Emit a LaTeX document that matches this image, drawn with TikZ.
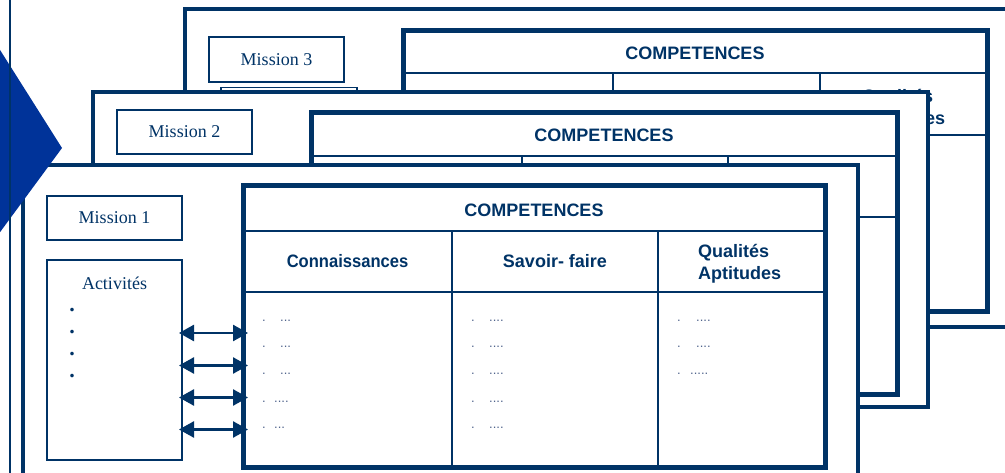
\documentclass[tikz,border=0pt]{standalone}
\usepackage{fontspec}
\setmainfont{Liberation Serif}
\newfontfamily\hsans{Liberation Sans}
\newfontfamily\hsansn[FakeStretch=0.92]{Liberation Sans}
\usetikzlibrary{arrows.meta}
\definecolor{navy}{RGB}{0,51,102}
\definecolor{royal}{RGB}{0,51,153}
\definecolor{dotc}{RGB}{80,100,140}
\tikzset{
  panel/.style={rectangle, draw=navy, line width=3.5pt, fill=white, inner sep=0pt, outer sep=0pt, anchor=north west},
  mbox/.style={rectangle, draw=navy, line width=2pt, fill=white, inner sep=0pt, outer sep=0pt, anchor=north west, text=navy, font=\fontsize{18}{22}\selectfont},
  tbl/.style={rectangle, draw=navy, line width=5pt, fill=white, inner sep=0pt, outer sep=0pt, anchor=north west},
  tline/.style={draw=navy, line width=2.2pt},
  head/.style={text=navy, font=\hsans\bfseries\fontsize{18}{22}\selectfont, inner sep=0pt, anchor=base},
  headw/.style={head, anchor=base west},
  mlabel/.style={text=navy, font=\fontsize{18}{22}\selectfont, inner sep=0pt},
  bul/.style={text=navy, font=\bfseries\fontsize{22}{24}\selectfont, inner sep=0pt},
  dotx/.style={text=dotc, font=\hsans\fontsize{13}{15}\selectfont, inner sep=0pt, anchor=base west},
  link/.style={draw=navy, line width=2.5pt, arrows={Triangle[length=15pt,width=16pt]-Triangle[length=15pt,width=16pt]}},
}
\newcommand\dotrow[5]{\node[dotx] (#1a) at (#2,#4) {.};\node[dotx] (#1b) at (#3,#4) {#5};}
\begin{document}
\begin{tikzpicture}[x=1pt,y=-1pt]
\clip (0,0) rectangle (1005,473);
\fill[white] (0,0) rectangle (1005,473);
% ---------------- panel 3 (back)
\node[panel, minimum width=850pt, minimum height=318pt] (p3) at (185,9) {};
\node[mbox, minimum width=135pt, minimum height=45pt] (m3) at (209,37) {Mission 3};
\node[mbox, line width=1.5pt, minimum width=136pt, minimum height=150pt] (act3) at (221,87.5) {};
\begin{scope}[shift={(403,31)}]
  \node[tbl, minimum width=584pt, minimum height=281pt] (t3) at (0,0) {};
  \draw[tline] (0,42) -- (584,42) (0,104) -- (584,104) (210,42) -- (210,281) (417,42) -- (417,281);
  \node[head] (c3) at (292,29) {COMPETENCES};
  \node[headw] (q3) at (459,72) {Qualités};
  \node[headw] (a3) at (459,94) {Aptitudes};
\end{scope}
% ---------------- panel 2
\node[panel, minimum width=835pt, minimum height=315pt] (p2) at (93,92) {};
\node[mbox, minimum width=135pt, minimum height=44pt] (m2) at (117,110) {Mission 2};
\begin{scope}[shift={(311,113)}]
  \node[tbl, minimum width=586pt, minimum height=281pt] (t2) at (0,0) {};
  \draw[tline] (0,43) -- (586,43) (0,104) -- (586,104) (211,43) -- (211,281) (417,43) -- (417,281);
  \node[head] (c2) at (293,29) {COMPETENCES};
\end{scope}
% ---------------- panel 1 (front)
\node[panel, minimum width=835pt, minimum height=340pt] (p1) at (23,165) {};
\node[mbox, minimum width=135pt, minimum height=44pt] (m1) at (47,196) {Mission 1};
\node[mbox, minimum width=135pt, minimum height=200pt] (act1) at (47,260) {};
\node[mlabel, anchor=base] (al1) at (114.5,290) {Activités};
\node[bul] (b1) at (72,310) {.};
\node[bul] (b2) at (72,332) {.};
\node[bul] (b3) at (72,354) {.};
\node[bul] (b4) at (72,376) {.};
\begin{scope}[shift={(243,186)}]
  \node[tbl, minimum width=582pt, minimum height=281pt] (t1) at (0,0) {};
  \draw[tline] (0,45) -- (582,45) (0,106) -- (582,106) (209,45) -- (209,281) (415,45) -- (415,281);
  \node[head] (c1) at (291,31) {COMPETENCES};
  \node[head, font=\hsansn\bfseries\fontsize{18}{22}\selectfont] (k1) at (104.5,82) {Connaissances};
  \node[head] (s1) at (312,82) {Savoir-\hspace{5pt}faire};
  \node[headw] (q1) at (455,72) {Qualités};
  \node[headw] (a1) at (455,94) {Aptitudes};
  \dotrow{x1}{19}{37}{136}{...}
  \dotrow{x2}{19}{37}{162}{...}
  \dotrow{x3}{19}{37}{188}{...}
  \dotrow{x4}{19}{31}{216}{....}
  \dotrow{x5}{19}{31}{242}{...}
  \dotrow{y1}{228}{246}{136}{....}
  \dotrow{y2}{228}{246}{162}{....}
  \dotrow{y3}{228}{246}{188}{....}
  \dotrow{y4}{228}{246}{216}{....}
  \dotrow{y5}{228}{246}{242}{....}
  \dotrow{z1}{434}{453}{136}{....}
  \dotrow{z2}{434}{453}{162}{....}
  \dotrow{z3}{434}{447}{188}{.....}
\end{scope}
% ---------------- links
\coordinate (r1) at (0,333);
\coordinate (r2) at (0,365.5);
\coordinate (r3) at (0,397.5);
\coordinate (r4) at (0,429.5);
\foreach \i in {1,2,3,4}
  \draw[link, shorten <=-3pt, shorten >=-5pt] (act1.east |- r\i) -- (t1.west |- r\i);
% ---------------- chevron and rule
\fill[royal] (-5,42) -- (62,148) -- (-5,239) -- cycle;
\draw[navy, line width=2pt] (9.5,-2) -- (9.5,480);
\end{tikzpicture}
\end{document}
